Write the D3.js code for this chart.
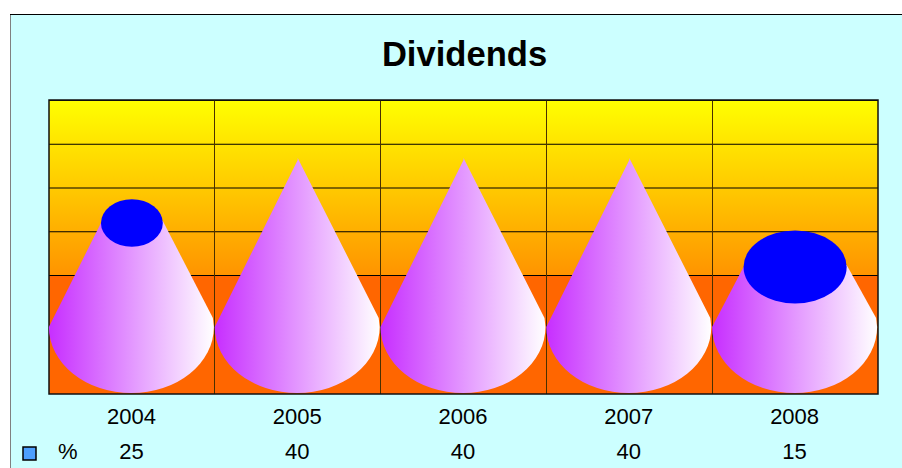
<!DOCTYPE html>
<html>
<head>
<meta charset="utf-8">
<script src="https://cdn.jsdelivr.net/npm/d3@7"></script>
<style>
html, body { margin: 0; padding: 0; background: #fff; overflow: hidden; }
text { font-family: "Liberation Sans", Arial, sans-serif; fill: #000; }
</style>
</head>
<body>
<div id="chart"></div>
<script>
var years = ["2004", "2005", "2006", "2007", "2008"];
var percent = [25, 40, 40, 40, 15];
var wallTicks = [0, 10, 20, 30, 40];
var seriesName = "%";

var width = 902, height = 468;
var left = 49, right = 878, top_ = 100, wallBottom = 275, bottom = 394;

var svg = d3.select("#chart").append("svg")
    .attr("width", width)
    .attr("height", height)
    .style("display", "block");

var defs = svg.append("defs");

var wallGrad = defs.append("linearGradient")
    .attr("id", "wallGrad")
    .attr("x1", 0).attr("y1", 0).attr("x2", 0).attr("y2", 1);
wallGrad.append("stop").attr("offset", "0%").attr("stop-color", "#ffff00");
wallGrad.append("stop").attr("offset", "100%").attr("stop-color", "#ff9400");

var coneGrad = defs.append("linearGradient")
    .attr("id", "coneGrad")
    .attr("x1", 0).attr("y1", 0).attr("x2", 1).attr("y2", 0);
coneGrad.append("stop").attr("offset", "0%").attr("stop-color", "#c72eff");
coneGrad.append("stop").attr("offset", "100%").attr("stop-color", "#ffffff");

// chart area
svg.append("rect")
    .attr("x", 10.5).attr("y", 14.5)
    .attr("width", width).attr("height", height)
    .attr("fill", "#ccffff");
svg.append("line")
    .attr("x1", 10.5).attr("x2", 10.5).attr("y1", 14).attr("y2", height)
    .attr("stroke", "#808080");
svg.append("line")
    .attr("x1", 10).attr("x2", width).attr("y1", 14.5).attr("y2", 14.5)
    .attr("stroke", "#000");

svg.append("text")
    .attr("x", 464.5).attr("y", 65.5)
    .attr("text-anchor", "middle")
    .style("font-size", "34.6px")
    .style("font-weight", "bold")
    .text("Dividends");

var x = d3.scaleBand().domain(years).range([left, right]);
var wallY = d3.scaleLinear().domain([0, 40]).range([wallBottom, top_]);
// cones stand on the floor, so their height runs on a scale of its own
var coneY = d3.scaleLinear().domain([0, 15, 25, 40]).range([327, 267, 223, 160]);
var radius = d3.scaleLinear().domain([0, 40]).range([82.5, 0]);
var tilt = d3.scaleLinear().domain([0, 15, 25, 40]).range([0.8, 0.706, 0.77, 0.77]);

// wall and floor
svg.append("rect")
    .attr("x", left).attr("y", top_)
    .attr("width", right - left).attr("height", wallBottom - top_)
    .attr("fill", "url(#wallGrad)");
svg.append("rect")
    .attr("x", left).attr("y", wallBottom)
    .attr("width", right - left).attr("height", bottom - wallBottom)
    .attr("fill", "#ff6600");

svg.selectAll(".hgrid")
    .data(wallTicks)
    .enter()
    .append("line")
    .attr("class", "hgrid")
    .attr("x1", left).attr("x2", right)
    .attr("y1", function(d) { return wallY(d) + 0.5; })
    .attr("y2", function(d) { return wallY(d) + 0.5; })
    .attr("stroke", "#000");

svg.selectAll(".vgrid")
    .data(years.slice(1))
    .enter()
    .append("line")
    .attr("class", "vgrid")
    .attr("x1", function(d) { return Math.floor(x(d)) + 0.5; })
    .attr("x2", function(d) { return Math.floor(x(d)) + 0.5; })
    .attr("y1", top_).attr("y2", bottom)
    .attr("stroke", "#4a3000");

svg.append("rect")
    .attr("x", left).attr("y", top_)
    .attr("width", right - left).attr("height", bottom - top_)
    .attr("fill", "none")
    .attr("stroke", "#111")
    .attr("stroke-width", 1.5);

// cones
var cones = svg.selectAll(".cone")
    .data(years.map(function(y, i) { return { year: y, value: percent[i] }; }))
    .enter()
    .append("g")
    .attr("class", "cone");

cones.append("path")
    .attr("fill", "url(#coneGrad)")
    .attr("d", function(d) {
        var cx = x(d.year) + x.bandwidth() / 2 - 0.5;
        var r0 = radius(0), ry0 = r0 * tilt(0), y0 = coneY(0);
        var r1 = radius(d.value), y1 = coneY(d.value);
        var p = d3.path();
        p.moveTo(cx - r0, y0);
        p.lineTo(cx - r1 + 0.5, y1);
        p.lineTo(cx + r1 + 0.5, y1 - 2);
        p.lineTo(cx + r0 - 1, y0 - 9);
        p.lineTo(cx + r0, y0);
        return p.toString() +
            "A" + r0 + "," + ry0 + " 0 0 1 " + (cx - r0) + "," + y0 + "Z";
    });

cones.filter(function(d) { return radius(d.value) > 0; })
    .append("ellipse")
    .attr("cx", function(d) { return x(d.year) + x.bandwidth() / 2; })
    .attr("cy", function(d) { return coneY(d.value); })
    .attr("rx", function(d) { return radius(d.value); })
    .attr("ry", function(d) { return radius(d.value) * tilt(d.value); })
    .attr("fill", "#0000ff");

// category labels
var xAxis = svg.append("g")
    .attr("transform", "translate(-0.5,424)")
    .call(d3.axisBottom(x).tickSize(0).tickPadding(0));
xAxis.select(".domain").remove();
xAxis.selectAll("text")
    .attr("y", 0)
    .attr("dy", 0)
    .style("font-size", "22px")
    .style("font-family", '"Liberation Sans", Arial, sans-serif');

// data table row
svg.selectAll(".val")
    .data(percent)
    .enter()
    .append("text")
    .attr("class", "val")
    .attr("x", function(d, i) { return x(years[i]) + x.bandwidth() / 2 - 0.5; })
    .attr("y", 459)
    .attr("text-anchor", "middle")
    .style("font-size", "22px")
    .text(function(d) { return d; });

svg.append("rect")
    .attr("x", 23).attr("y", 447)
    .attr("width", 13).attr("height", 13)
    .attr("fill", "#4d9fff")
    .attr("stroke", "#000")
    .attr("stroke-width", 1.5);

svg.append("text")
    .attr("x", 58).attr("y", 459)
    .style("font-size", "22px")
    .text(seriesName);
</script>
</body>
</html>
